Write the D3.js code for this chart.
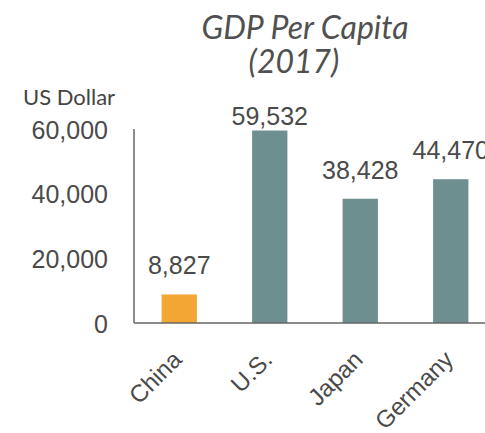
<!DOCTYPE html>
<html>
<head>
<meta charset="utf-8">
<script src="https://cdn.jsdelivr.net/npm/d3@7/dist/d3.min.js"></script>
<style>
  html, body { margin: 0; padding: 0; background: #fff; overflow: hidden; }
  svg { display: block; }
</style>
</head>
<body>
<svg id="chart" width="485" height="433"></svg>
<script>
// GDP per capita, 2017, US dollars
const countries = ["China", "U.S.", "Japan", "Germany"];
const gdpPerCapita = [8827, 59532, 38428, 44470];
const barColors = ["#f3a633", "#6e8f90", "#6e8f90", "#6e8f90"];
const yTicks = [0, 20000, 40000, 60000];
const titleLines = ["GDP Per Capita", "(2017)"];
const yAxisLabel = "US Dollar";

const svg = d3.select("#chart");
const W = 485;
const axisX = 134, baseY = 323, topY = 129;

const x = d3.scaleBand()
  .domain(countries)
  .range([axisX, axisX + 4 * 90.5])
  .paddingInner(0.61)
  .paddingOuter(0.305);

const y = d3.scaleLinear().domain([0, 60000]).range([baseY, topY]);
const fmt = d3.format(",");

// two-line italic title
const titlePos = [{ x: 305, y: 39 }, { x: 294, y: 73 }];
svg.append("g").selectAll("text")
  .data(titleLines)
  .join("text")
  .attr("x", (d, i) => titlePos[i].x)
  .attr("y", (d, i) => titlePos[i].y)
  .attr("text-anchor", "middle")
  .attr("font-family", "Lato, 'Open Sans', sans-serif")
  .attr("font-style", "italic")
  .attr("font-size", 32)
  .attr("fill", "#505050")
  .text(d => d);

// y-axis unit label
svg.append("text")
  .attr("x", 23).attr("y", 105)
  .attr("font-family", "Lato, 'Open Sans', sans-serif")
  .attr("font-size", 22)
  .attr("fill", "#444")
  .text(yAxisLabel);

// bars
svg.append("g").selectAll("rect")
  .data(countries)
  .join("rect")
  .attr("x", d => x(d))
  .attr("width", x.bandwidth())
  .attr("y", (d, i) => y(gdpPerCapita[i]))
  .attr("height", (d, i) => baseY - y(gdpPerCapita[i]))
  .attr("fill", (d, i) => barColors[i]);

// y axis with tick labels, no tick marks
const yAxis = d3.axisLeft(y).tickValues(yTicks).tickFormat(fmt).tickSize(0).tickPadding(26);
const gy = svg.append("g").attr("transform", `translate(${axisX},0)`).call(yAxis);
gy.select(".domain").remove();
gy.selectAll("text")
  .attr("font-family", "'Liberation Sans', Arial, sans-serif")
  .attr("font-size", 25)
  .attr("fill", "#4a4a4a")
  .attr("dy", "0.36em");

svg.append("line")
  .attr("x1", axisX).attr("x2", axisX)
  .attr("y1", topY).attr("y2", baseY)
  .attr("stroke", "#666").attr("stroke-width", 1.5);

// x axis baseline and rotated category labels
const xAxis = d3.axisBottom(x).tickSize(0).tickPadding(0);
const gx = svg.append("g").attr("transform", `translate(0,${baseY})`).call(xAxis);
gx.select(".domain").remove();
gx.selectAll("text")
  .attr("font-family", "'Liberation Sans', Arial, sans-serif")
  .attr("font-size", 24)
  .attr("fill", "#4a4a4a")
  .attr("text-anchor", "end")
  .attr("dy", 0)
  .attr("transform", "translate(4,38) rotate(-45)");

svg.append("line")
  .attr("x1", axisX).attr("x2", W)
  .attr("y1", baseY).attr("y2", baseY)
  .attr("stroke", "#666").attr("stroke-width", 1.5);

// value labels above bars
svg.append("g").selectAll("text")
  .data(countries)
  .join("text")
  .attr("x", d => x(d) + x.bandwidth() / 2)
  .attr("y", (d, i) => Math.max(y(gdpPerCapita[i]) - 20, 125))
  .attr("text-anchor", "middle")
  .attr("font-family", "'Liberation Sans', Arial, sans-serif")
  .attr("font-size", 25)
  .attr("fill", "#4a4a4a")
  .text((d, i) => fmt(gdpPerCapita[i]));
</script>
</body>
</html>
